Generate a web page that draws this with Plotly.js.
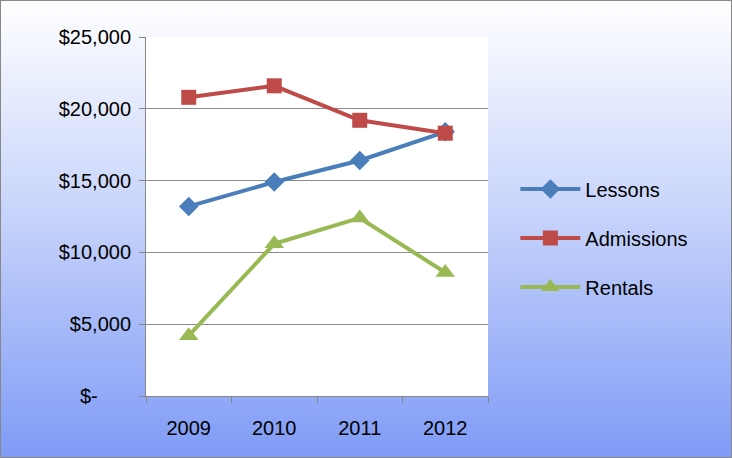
<!DOCTYPE html>
<html><head>
<script src="https://cdn.plot.ly/plotly-3.0.1.min.js"></script>
<style>
body{margin:0;}
#chart{width:730px;height:456px;border:1px solid #888;background:linear-gradient(to bottom,#ffffff 0%,#c9d5fb 45%,#7f9bf6 100%);}
</style>
</head><body>
<div id="chart"></div>
<script>
var years = ['2009','2010','2011','2012'];
var lessons = [13200, 14900, 16400, 18400];
var admissions = [20800, 21600, 19200, 18300];
var rentals = [4200, 10600, 12400, 8600];

var traces = [
  {x: years, y: lessons, name: 'Lessons', legendgroup: 'a', type: 'scatter', mode: 'lines+markers',
   line: {color: '#4a7ebb', width: 4}, marker: {symbol: 'diamond', size: 15, color: '#4a7ebb'}},
  {x: years, y: admissions, name: 'Admissions', legendgroup: 'b', type: 'scatter', mode: 'lines+markers',
   line: {color: '#be4b48', width: 4}, marker: {symbol: 'square', size: 15, color: '#be4b48'}},
  {x: years, y: rentals, name: 'Rentals', legendgroup: 'c', type: 'scatter', mode: 'lines+markers',
   line: {color: '#98b954', width: 4}, marker: {symbol: 'triangle-up', size: 17, color: '#98b954'}}
];
var layout = {
  width: 730, height: 456,
  margin: {l: 145, r: 243, t: 36, b: 61},
  paper_bgcolor: 'rgba(0,0,0,0)',
  plot_bgcolor: '#ffffff',
  font: {family: 'Liberation Sans, Arial, sans-serif', size: 20, color: '#000'},
  showlegend: true,
  legend: {x: 1.08, y: 0.44, yanchor: 'middle', bgcolor: 'rgba(0,0,0,0)', tracegroupgap: 20, itemwidth: 60, font: {size: 20}},
  xaxis: {type: 'category', tickson: 'boundaries', ticks: 'outside', ticklen: 6, tickcolor: '#888',
    showline: true, linecolor: '#888', showgrid: false, range: [-0.5, 3.5], ticklabelstandoff: 14},
  yaxis: {range: [0, 25000], ticks: 'outside', ticklen: 6, tickcolor: '#888', showline: true, linecolor: '#888',
    gridcolor: '#8c8c8c', zeroline: false, ticklabelstandoff: 4,
    tickvals: [0, 5000, 10000, 15000, 20000, 25000],
    ticktext: ['$-      ', '$5,000', '$10,000', '$15,000', '$20,000', '$25,000']}
};
Plotly.newPlot('chart', traces, layout, {displayModeBar: false});
</script>
</body></html>
